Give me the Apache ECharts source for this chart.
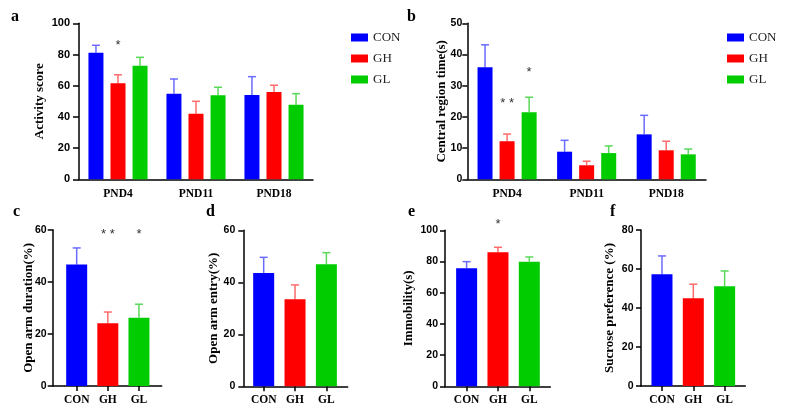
<!DOCTYPE html>
<html><head><meta charset="utf-8">
<script src="https://cdn.jsdelivr.net/npm/echarts@6/dist/echarts.min.js"></script>
<style>html,body{margin:0;padding:0;background:#fff}#c{width:786px;height:420px}</style>
</head><body><div id="c"></div>
<script>
// ---- data ----
const groups = ['CON', 'GH', 'GL'];
const days = ['PND4', 'PND11', 'PND18'];
// a: Activity score (mean, SD) per group across days
const actCON = [81.2, 54.9, 54.0], actCONsd = [4.7, 9.4, 11.8];
const actGH  = [61.5, 42.0, 56.0], actGHsd  = [5.5, 8.0, 4.3];
const actGL  = [72.8, 53.8, 47.8], actGLsd  = [5.4, 5.2, 7.1];
// b: Central region time(s)
const ctrCON = [35.9, 8.85, 14.4], ctrCONsd = [7.2, 3.65, 6.1];
const ctrGH  = [12.2, 4.5, 9.3],   ctrGHsd  = [2.3, 1.3, 2.9];
const ctrGL  = [21.5, 8.4, 8.0],   ctrGLsd  = [4.8, 2.3, 1.7];
// c-f: per group
const openDur = [46.6, 24.1, 26.2],   openDurSd = [6.4, 4.3, 5.2];
const openEnt = [43.6, 33.5, 46.9],   openEntSd = [6.0, 5.5, 4.5];
const immob   = [75.6, 85.9, 79.9],   immobSd   = [4.3, 3.2, 3.0];
const sucrose = [57.3, 45.0, 51.1],   sucroseSd = [9.4, 7.2, 7.9];
// significance marks: [category index, group index, text, level]
const starsA = [[0, 1, '*', 86]];
const starsB = [[0, 1, '**', 24.2], [0, 2, '*', 34.2]];
const starsC = [[1, 0, '**', 58.2], [2, 0, '*', 58.2]];
const starsE = [[1, 0, '*', 103.8]];

// ---- style ----
const fill = ['#0000ff', '#ff0000', '#00cc00'];
const errCol = ['#6b6bff', '#ff6b6b', '#5ad85a'];
const serif = 'Liberation Serif';
const sans = 'Liberation Sans';
const BW_AB = 15, GAP_AB = 0.47, STEP_AB = BW_AB * (1 + GAP_AB);
const BW_CF = 21;

function errSeries(gridIdx, data, color, offset) {
  return {
    type: 'custom', xAxisIndex: gridIdx, yAxisIndex: gridIdx, z: 1, silent: true,
    data: data,
    renderItem: function (params, api) {
      const x = api.value(0), m = api.value(1), s = api.value(2);
      const p0 = api.coord([x, m]);
      const p1 = api.coord([x, m + s]);
      const cx = p0[0] + offset;
      return {
        type: 'group', children: [
          { type: 'line', shape: { x1: cx, y1: p0[1], x2: cx, y2: p1[1] }, style: { stroke: color, lineWidth: 1.5 } },
          { type: 'line', shape: { x1: cx - 4, y1: p1[1], x2: cx + 4, y2: p1[1] }, style: { stroke: color, lineWidth: 1.5 } }
        ]
      };
    }
  };
}
function starSeries(gridIdx, stars, step) {
  return {
    type: 'custom', xAxisIndex: gridIdx, yAxisIndex: gridIdx, z: 5, silent: true,
    data: stars.map(s => [s[0], s[3], s[1]]),
    renderItem: function (params, api) {
      const p = api.coord([api.value(0), api.value(1)]);
      const off = (api.value(2) - 1) * step;
      const txt = stars[params.dataIndex][2];
      return { type: 'text', style: { text: txt.split('').join(' '), x: p[0] + off, y: p[1], align: 'center', verticalAlign: 'middle', fill: '#333', font: '13px ' + sans } };
    }
  };
}

const grids = [
  { left: 79, top: 23.3, width: 234, height: 156 },
  { left: 467.3, top: 23.3, width: 238.7, height: 156 },
  { left: 52.7, top: 229.7, width: 109, height: 156.3 },
  { left: 243.3, top: 230.3, width: 104.4, height: 156 },
  { left: 445, top: 230.3, width: 105.3, height: 156 },
  { left: 641, top: 230, width: 104.3, height: 156 }
];
const yDefs = [
  { max: 100, interval: 20, name: 'Activity score', gap: 33, lm: 9, fs: 11, tl: 6 },
  { max: 50, interval: 10, name: 'Central region time(s)', gap: 19, lm: 5, fs: 10.5, tl: 5 },
  { max: 60, interval: 20, name: 'Open arm duration(%)', gap: 18, lm: 6, fs: 10.5, tl: 5 },
  { max: 60, interval: 20, name: 'Open arm entry(%)', gap: 23.5, lm: 8, fs: 10.5, tl: 5 },
  { max: 100, interval: 20, name: 'Immobility(s)', gap: 30, lm: 7, fs: 10.5, tl: 5 },
  { max: 80, interval: 20, name: 'Sucrose preference (%)', gap: 24.5, lm: 7.5, fs: 10.5, tl: 5 }
];
const xRanges = [null, null, [-0.77, 2.73], [-0.65, 2.68], [-0.69, 2.67], [-0.67, 2.66]];

const axisLine = { show: true, onZero: false, lineStyle: { color: '#000', width: 1.5 } };
const xAxes = grids.map((g, i) => {
  if (i < 2) {
    return {
      type: 'category', gridIndex: i, data: days,
      axisLine: axisLine, axisTick: { alignWithLabel: true, length: 5, lineStyle: { color: '#000', width: 1.5 } },
      axisLabel: { fontFamily: serif, fontWeight: 'bold', fontSize: 11.5, color: '#000', margin: 9 }
    };
  }
  return {
    type: 'value', gridIndex: i, min: xRanges[i][0], max: xRanges[i][1],
    splitLine: { show: false }, axisLine: axisLine,
    axisTick: { show: true, customValues: [0, 1, 2], length: 5, lineStyle: { color: '#000', width: 1.5 } },
    axisLabel: { customValues: [0, 1, 2], formatter: v => groups[Math.round(v)], fontFamily: serif, fontWeight: 'bold', fontSize: 11.5, color: '#000', margin: 8 }
  };
});
const yAxes = yDefs.map((d, i) => ({
  type: 'value', gridIndex: i, min: 0, max: d.max, interval: d.interval,
  name: d.name, nameLocation: 'middle', nameGap: d.gap, nameRotate: 90, nameMoveOverlap: false,
  nameTextStyle: { fontFamily: serif, fontWeight: 'bold', fontSize: 13, color: '#000' },
  splitLine: { show: false }, axisLine: axisLine,
  axisTick: { show: true, length: d.tl, lineStyle: { color: '#000', width: 1.5 } },
  axisLabel: { fontFamily: sans, fontWeight: 'bold', fontSize: d.fs, color: '#000', margin: d.lm }
}));

const series = [];
// a & b grouped bars
const abMeans = [[actCON, actGH, actGL], [ctrCON, ctrGH, ctrGL]];
const abSds = [[actCONsd, actGHsd, actGLsd], [ctrCONsd, ctrGHsd, ctrGLsd]];
[0, 1].forEach(gi => {
  groups.forEach((gname, k) => {
    series.push({
      type: 'bar', name: gname, xAxisIndex: gi, yAxisIndex: gi, data: abMeans[gi][k],
      barWidth: BW_AB, barGap: (GAP_AB * 100) + '%', itemStyle: { color: fill[k] }, z: 2
    });
  });
  groups.forEach((gname, k) => {
    series.push(errSeries(gi, abMeans[gi][k].map((m, j) => [j, m, abSds[gi][k][j]]), errCol[k], (k - 1) * STEP_AB));
  });
});
// c-f single bars
const cfMeans = [openDur, openEnt, immob, sucrose];
const cfSds = [openDurSd, openEntSd, immobSd, sucroseSd];
cfMeans.forEach((arr, n) => {
  const gi = n + 2;
  series.push({
    type: 'bar', name: 'panel' + gi, xAxisIndex: gi, yAxisIndex: gi, barWidth: BW_CF, z: 2,
    data: arr.map((v, j) => ({ value: [j, v], itemStyle: { color: fill[j] } }))
  });
  arr.forEach((v, j) => {
    series.push(errSeries(gi, [[j, v, cfSds[n][j]]], errCol[j], 0));
  });
});
series.push(starSeries(0, starsA, STEP_AB));
series.push(starSeries(1, starsB, STEP_AB));
series.push(starSeries(2, starsC, 0));
series.push(starSeries(4, starsE, 0));

const legendBase = {
  orient: 'vertical', itemWidth: 17, itemHeight: 8, itemGap: 8, icon: 'rect', data: groups,
  textStyle: { fontFamily: serif, fontSize: 13, color: '#222' }, selectedMode: false
};
const panelTitle = (t, l, tp) => ({ text: t, left: l, top: tp, padding: 0, textStyle: { fontFamily: serif, fontWeight: 'bold', fontSize: 16, color: '#000' } });

const chart = echarts.init(document.getElementById('c'), null, { renderer: 'canvas' });
chart.setOption({
  animation: false,
  backgroundColor: '#fff',
  title: [panelTitle('a', 11, 9), panelTitle('b', 407, 9), panelTitle('c', 13, 204), panelTitle('d', 206, 204), panelTitle('e', 408, 204), panelTitle('f', 610, 204)],
  legend: [Object.assign({ left: 346, top: 26 }, legendBase), Object.assign({ left: 722, top: 26 }, legendBase)],
  grid: grids,
  xAxis: xAxes,
  yAxis: yAxes,
  series: series
});
</script></body></html>
